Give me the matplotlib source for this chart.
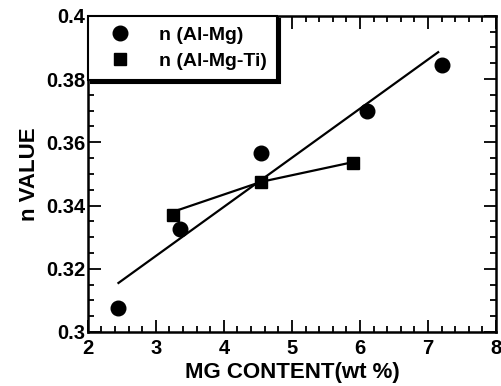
import matplotlib
matplotlib.use("Agg")
import matplotlib.pyplot as plt
from matplotlib.ticker import MultipleLocator

plt.rcParams['font.family'] = ['Liberation Sans', 'DejaVu Sans']

# Data
mg_x = [2.45, 3.35, 4.55, 6.1, 7.2]
mg_y = [0.3075, 0.3325, 0.3565, 0.370, 0.3845]
ti_x = [3.25, 4.55, 5.9]
ti_y = [0.337, 0.3475, 0.3535]
fit_x = [2.45, 7.15]
fit_y = [0.3155, 0.3885]
ti_line_x = [3.25, 4.55, 5.85]
ti_line_y = [0.338, 0.3475, 0.3535]

xticks = [2, 3, 4, 5, 6, 7, 8]
yticks = [0.3, 0.32, 0.34, 0.36, 0.38, 0.4]
ytick_labels = ['0.3', '0.32', '0.34', '0.36', '0.38', '0.4']

fig = plt.figure(figsize=(5.02, 3.86), dpi=100)
ax = fig.add_axes([0.175, 0.14, 0.813, 0.819])

ax.plot(fit_x, fit_y, color='black', lw=1.6)
ax.plot(ti_line_x, ti_line_y, color='black', lw=1.6)
h1, = ax.plot(mg_x, mg_y, 'o', color='black', ms=10.5, ls='none', label='n (Al-Mg)')
h2, = ax.plot(ti_x, ti_y, 's', color='black', ms=9, ls='none', label='n (Al-Mg-Ti)')

ax.set_xlim(2, 8)
ax.set_ylim(0.3, 0.4)
ax.set_xticks(xticks)
ax.set_xticklabels([str(v) for v in xticks])
ax.set_yticks(yticks)
ax.set_yticklabels(ytick_labels)
ax.xaxis.set_minor_locator(MultipleLocator(0.2))
ax.yaxis.set_minor_locator(MultipleLocator(0.005))
ax.tick_params(which='both', direction='in', top=True, right=True, width=1.3)
ax.tick_params(which='major', length=9, labelsize=14.5)
ax.tick_params(axis='x', which='major', pad=5)
ax.tick_params(axis='y', which='major', pad=2)
ax.tick_params(which='minor', length=4.5)
for lab in ax.get_xticklabels() + ax.get_yticklabels():
    lab.set_fontweight('bold')
for s in ax.spines.values():
    s.set_linewidth(1.8)

ax.set_xlabel('MG CONTENT(wt %)', fontsize=16, fontweight='bold', labelpad=3)
ax.set_ylabel('n VALUE', fontsize=16, fontweight='bold', labelpad=4)

leg = ax.legend(handles=[h1, h2], loc='upper left', bbox_to_anchor=(0.0, 1.0),
                fancybox=False, shadow={'color': 'black', 'alpha': 1}, framealpha=1,
                edgecolor='black', prop={'size': 14, 'weight': 'bold'},
                borderpad=0.55, handletextpad=0.9, labelspacing=0.4, borderaxespad=0.0,
                handlelength=2.2)
leg.get_frame().set_linewidth(1.5)

fig.savefig('out.png', dpi=100)
